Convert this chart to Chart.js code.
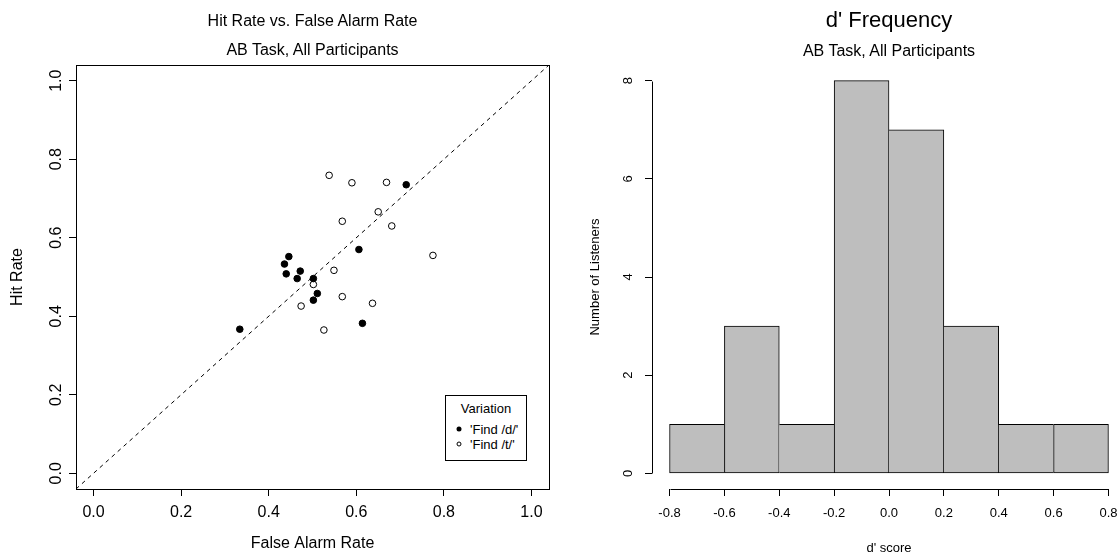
<!DOCTYPE html>
<html><head><meta charset="utf-8">
<script src="https://cdn.jsdelivr.net/npm/chart.js@4.4.0/dist/chart.umd.min.js"></script>
<style>
html,body{margin:0;padding:0;background:#fff;overflow:hidden;}
#wrap{position:relative;width:1119px;height:556px;overflow:hidden;font-family:"Liberation Sans",Arial,sans-serif;color:#000;}
canvas{position:absolute;top:0;}
.t{position:absolute;white-space:nowrap;line-height:1;transform:translate(-50%,-50%);}
#legend{position:absolute;left:445px;top:395px;width:80px;height:64px;border:1px solid #000;font-size:13px;background:#fff;}
#legend .lt{position:absolute;white-space:nowrap;line-height:1;transform:translateY(-50%);}
#legend .sym{position:absolute;width:5px;height:5px;border-radius:50%;transform:translate(-50%,-50%);box-sizing:border-box;}
</style></head>
<body><div id="wrap">
<canvas id="c1" width="560" height="556" style="left:0"></canvas>
<canvas id="c2" width="600" height="556" style="left:559px"></canvas>
<div class="t" style="left:312.5px;top:21px;font-size:16px">Hit Rate vs. False Alarm Rate</div>
<div class="t" style="left:312.5px;top:50px;font-size:16px">AB Task, All Participants</div>
<div class="t" style="left:889px;top:20px;font-size:22px">d' Frequency</div>
<div class="t" style="left:889px;top:51px;font-size:16px">AB Task, All Participants</div>
<div id="legend">
  <div class="lt" style="left:50%;top:12px;transform:translate(-50%,-50%)">Variation</div>
  <div class="sym" style="left:13px;top:33px;background:#000"></div>
  <div class="lt" style="left:24px;top:33px">'Find /d/'</div>
  <div class="sym" style="left:13px;top:48px;border:1px solid #000;background:#fff"></div>
  <div class="lt" style="left:24px;top:48px">'Find /t/'</div>
</div>
</div>
<script>
// ---- Data: Hit rate vs false alarm rate ----
const findDFalseAlarm = [0.714, 0.606, 0.446, 0.436, 0.440, 0.472, 0.465, 0.502, 0.511, 0.502, 0.614, 0.334];
const findDHitRate    = [0.735, 0.570, 0.552, 0.533, 0.508, 0.515, 0.496, 0.496, 0.458, 0.441, 0.382, 0.367];
const findTFalseAlarm = [0.538, 0.590, 0.669, 0.650, 0.568, 0.681, 0.775, 0.549, 0.502, 0.568, 0.637, 0.474, 0.526];
const findTHitRate    = [0.759, 0.740, 0.741, 0.666, 0.642, 0.630, 0.555, 0.517, 0.481, 0.450, 0.433, 0.426, 0.365];
const rateTicks = [0.0, 0.2, 0.4, 0.6, 0.8, 1.0];

// ---- Data: d' histogram ----
const binEdges = [-0.8, -0.6, -0.4, -0.2, 0.0, 0.2, 0.4, 0.6, 0.8];
const listenerCounts = [1, 3, 1, 8, 7, 3, 1, 1];
const dScoreTicks = [-0.8, -0.6, -0.4, -0.2, 0.0, 0.2, 0.4, 0.6, 0.8];
const countTicks = [0, 2, 4, 6, 8];

const FAM = "'Liberation Sans', Arial, sans-serif";
const ext = (lo, hi) => [lo - 0.04 * (hi - lo), hi + 0.04 * (hi - lo)];
const rateRange = ext(rateTicks[0], rateTicks[rateTicks.length - 1]);
const dRange = ext(binEdges[0], binEdges[binEdges.length - 1]);
const cRange = ext(0, countTicks[countTicks.length - 1]);

const boxPlugin = {
  id: 'box',
  afterDatasetsDraw(chart) {
    const { ctx, chartArea: a } = chart;
    ctx.save();
    ctx.strokeStyle = '#000'; ctx.lineWidth = 1;
    ctx.strokeRect(Math.round(a.left) + 0.5, Math.round(a.top) + 0.5,
                   Math.round(a.right - a.left), Math.round(a.bottom - a.top));
    ctx.restore();
  }
};

const axisLinesPlugin = {
  id: 'axisLines',
  afterDatasetsDraw(chart) {
    const { ctx, chartArea: a, scales: { x, y } } = chart;
    ctx.save();
    ctx.strokeStyle = '#000'; ctx.lineWidth = 1;
    ctx.beginPath();
    const yb = Math.round(a.bottom) + 0.5;
    ctx.moveTo(Math.round(x.getPixelForValue(dScoreTicks[0])) + 0.5, yb);
    ctx.lineTo(Math.round(x.getPixelForValue(dScoreTicks[dScoreTicks.length - 1])) + 0.5, yb);
    const xl = Math.round(a.left) + 0.5;
    ctx.moveTo(xl, Math.round(y.getPixelForValue(countTicks[0])) + 0.5);
    ctx.lineTo(xl, Math.round(y.getPixelForValue(countTicks[countTicks.length - 1])) + 0.5);
    ctx.stroke();
    ctx.restore();
  }
};

const gridOpts = { drawOnChartArea: false, drawTicks: true, tickLength: 7, color: '#000', lineWidth: 1 };

// shared edges between adjacent bars are drawn once, by the taller bar
const barBorder = (c) => {
  const i = c.dataIndex, h = listenerCounts, n = h.length;
  return {
    top: 1, bottom: 1,
    left: (i === 0 || h[i] >= h[i - 1]) ? 1 : 0,
    right: (i === n - 1 || h[i] > h[i + 1]) ? 1 : 0
  };
};

// ---- Left: scatter ----
new Chart(document.getElementById('c1'), {
  type: 'scatter',
  data: {
    datasets: [
      { type: 'line', data: [{ x: rateRange[0], y: rateRange[0] }, { x: rateRange[1], y: rateRange[1] }],
        borderColor: '#000', borderWidth: 1, borderDash: [4, 4], pointRadius: 0, fill: false, order: 2 },
      { label: "'Find /d/'", data: findDFalseAlarm.map((v, i) => ({ x: v, y: findDHitRate[i] })),
        pointRadius: 3.3, backgroundColor: '#000', borderColor: '#000', borderWidth: 1, order: 1 },
      { label: "'Find /t/'", data: findTFalseAlarm.map((v, i) => ({ x: v, y: findTHitRate[i] })),
        pointRadius: 3.3, backgroundColor: '#fff', borderColor: '#000', borderWidth: 1, order: 1 }
    ]
  },
  options: {
    responsive: false, animation: false, events: [],
    layout: { padding: { top: 65, right: 11, left: 0, bottom: 0 } },
    plugins: { legend: { display: false }, tooltip: { enabled: false } },
    scales: {
      x: {
        type: 'linear', min: rateRange[0], max: rateRange[1],
        afterBuildTicks: s => { s.ticks = rateTicks.map(v => ({ value: v })); },
        afterFit: s => { s.height = 67; s.paddingLeft = 0; s.paddingRight = 0; },
        grid: gridOpts, border: { display: false },
        ticks: { font: { size: 16, family: FAM }, color: '#000', padding: 7, maxRotation: 0, autoSkip: false,
                 callback: v => Number(v).toFixed(1) },
        title: { display: true, text: 'False Alarm Rate', font: { size: 16, family: FAM }, color: '#000',
                 padding: { top: 0, bottom: 3 } }
      },
      y: {
        type: 'linear', min: rateRange[0], max: rateRange[1],
        afterBuildTicks: s => { s.ticks = rateTicks.map(v => ({ value: v })); },
        afterFit: s => { s.width = 76; s.paddingTop = 0; s.paddingBottom = 0; },
        grid: gridOpts, border: { display: false },
        ticks: { font: { size: 16, family: FAM }, color: '#000', padding: 1, minRotation: 90, maxRotation: 90,
                 crossAlign: 'center', autoSkip: false, callback: v => Number(v).toFixed(1) },
        title: { display: true, text: 'Hit Rate', font: { size: 16, family: FAM }, color: '#000',
                 padding: { top: 8, bottom: 0 } }
      }
    }
  },
  plugins: [boxPlugin]
});

// ---- Right: histogram ----
new Chart(document.getElementById('c2'), {
  type: 'bar',
  data: {
    datasets: [{
      data: listenerCounts.map((c, i) => ({ x: (binEdges[i] + binEdges[i + 1]) / 2, y: c })),
      backgroundColor: '#BEBEBE', borderColor: '#000', borderWidth: barBorder, borderSkipped: false,
      barPercentage: 1, categoryPercentage: 1
    }]
  },
  options: {
    responsive: false, animation: false, events: [],
    layout: { padding: { top: 65, right: 33, left: 0, bottom: 0 } },
    plugins: { legend: { display: false }, tooltip: { enabled: false } },
    scales: {
      x: {
        type: 'linear', min: dRange[0], max: dRange[1], offset: false,
        afterBuildTicks: s => { s.ticks = dScoreTicks.map(v => ({ value: v })); },
        afterFit: s => { s.height = 67; s.paddingLeft = 0; s.paddingRight = 0; },
        grid: Object.assign({ offset: false }, gridOpts), border: { display: false },
        ticks: { font: { size: 13, family: FAM }, color: '#000', padding: 10, maxRotation: 0, autoSkip: false,
                 callback: v => Number(v).toFixed(1) },
        title: { display: true, text: "d' score", font: { size: 13, family: FAM }, color: '#000',
                 padding: { top: 0, bottom: 0 } }
      },
      y: {
        type: 'linear', min: cRange[0], max: cRange[1],
        afterBuildTicks: s => { s.ticks = countTicks.map(v => ({ value: v })); },
        afterFit: s => { s.width = 93; s.paddingTop = 0; s.paddingBottom = 0; },
        grid: gridOpts, border: { display: false },
        ticks: { font: { size: 13, family: FAM }, color: '#000', padding: 13, minRotation: 90, maxRotation: 90,
                 crossAlign: 'center', autoSkip: false, callback: v => String(v) },
        title: { display: true, text: 'Number of Listeners', font: { size: 13, family: FAM }, color: '#000',
                 padding: { top: 29, bottom: 0 } }
      }
    }
  },
  plugins: [axisLinesPlugin]
});
</script>
</body></html>
